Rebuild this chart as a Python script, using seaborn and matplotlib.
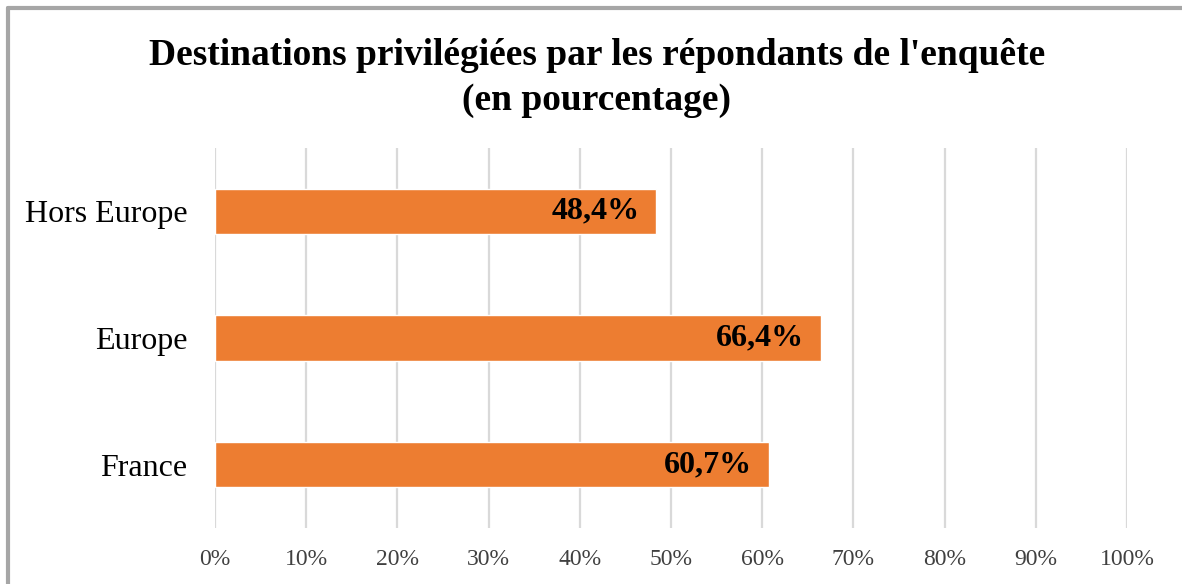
import matplotlib
matplotlib.use("Agg")
import matplotlib.pyplot as plt
import seaborn as sns
import pandas as pd
from matplotlib.lines import Line2D

categories = ["Hors Europe", "Europe", "France"]
values = [48.4, 66.4, 60.7]
value_labels = ["48,4%", "66,4%", "60,7%"]
xticks = [0, 10, 20, 30, 40, 50, 60, 70, 80, 90, 100]
xtick_labels = [f"{t}%" for t in xticks]
title = "Destinations privilégiées par les répondants de l'enquête\n(en pourcentage)"

sns.set_theme(style="white")
plt.rcParams["font.family"] = ["Liberation Serif", "DejaVu Serif"]
plt.rcParams["text.color"] = "#000000"

df = pd.DataFrame({"cat": categories, "val": values})

fig = plt.figure(figsize=(11.82, 5.84), dpi=100)
ax = fig.add_axes([215/1182, 1-528/584, (1127-215)/1182, (528-148)/584])

sns.barplot(data=df, x="val", y="cat", orient="h", color="#ED7D31",
            saturation=1, width=0.356, ax=ax, zorder=3)

ax.set_xlim(0, 100)
ax.set_ylim(2.5, -0.5)
ax.set_xticks(xticks)
ax.set_xticklabels(xtick_labels, fontsize=17, color="#404040")
ax.tick_params(axis="x", length=0, pad=15)
ax.tick_params(axis="y", length=0, pad=20, labelsize=23, labelcolor="#000000")
ax.set_xlabel("")
ax.set_ylabel("")
ax.xaxis.grid(True, color="#D9D9D9", linewidth=1.6, zorder=0)
ax.yaxis.grid(False)
ax.set_axisbelow(True)
for s in ax.spines.values():
    s.set_visible(False)

for i, (v, lab) in enumerate(zip(values, value_labels)):
    ax.text(v - 1.8, i, lab, ha="right", va="center", fontsize=23,
            fontweight="bold", color="#000000", zorder=4)

fig.text(597/1182, 1-78/584, title, ha="center", va="center", fontsize=27,
         fontweight="bold", linespacing=1.35, color="#000000")

# frame lines (top and left)
fig.add_artist(Line2D([8/1182, 8/1182], [0, 1-8/584], transform=fig.transFigure,
                      color="#A6A6A6", linewidth=3))
fig.add_artist(Line2D([8/1182, 1], [1-8/584, 1-8/584], transform=fig.transFigure,
                      color="#A6A6A6", linewidth=3))

fig.savefig("out.png", dpi=100)
